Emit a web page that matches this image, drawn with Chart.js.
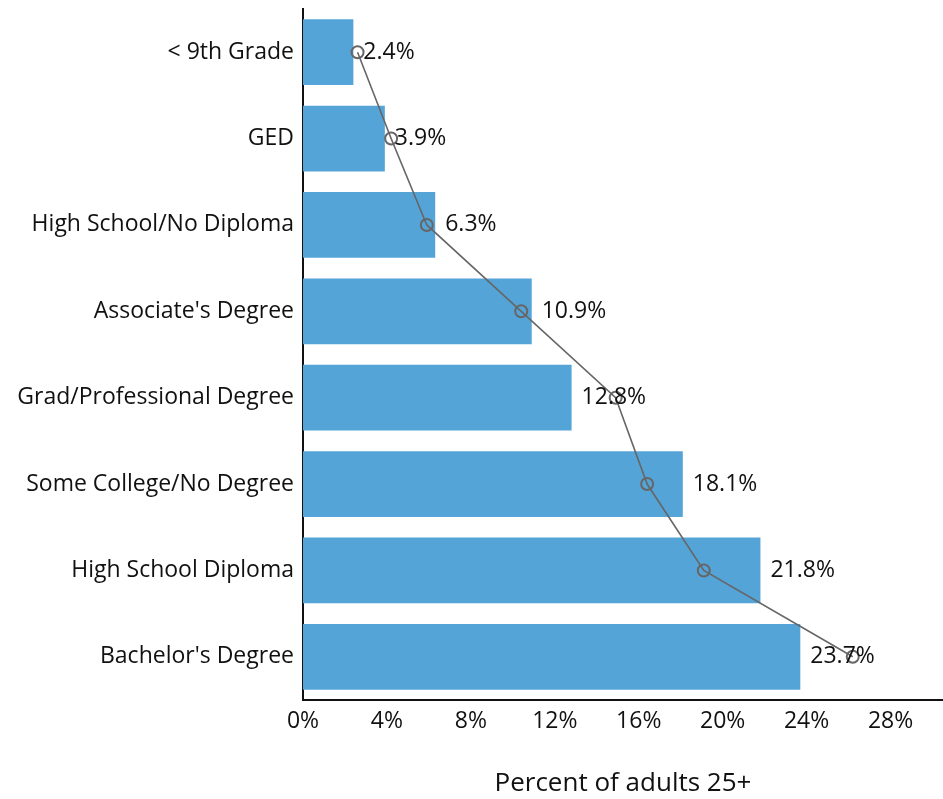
<!DOCTYPE html>
<html>
<head>
  <title>Education attainment</title>
  <script src="https://cdn.jsdelivr.net/npm/chart.js"></script>
  <style>
    html, body { margin: 0; padding: 0; overflow: hidden; background: #fff; }
    #wrap { width: 943px; height: 799px; }
  </style>
</head>
<body>
  <div id="wrap">
    <canvas id="eduChart"></canvas>
  </div>

  <script>
    // categories, top to bottom
    const categories = [
      '< 9th Grade',
      'GED',
      'High School/No Diploma',
      "Associate's Degree",
      'Grad/Professional Degree',
      'Some College/No Degree',
      'High School Diploma',
      "Bachelor's Degree"
    ];
    // bar values (percent)
    const barValues = [2.4, 3.9, 6.3, 10.9, 12.8, 18.1, 21.8, 23.7];
    // comparison line values (percent)
    const lineValues = [2.6, 4.2, 5.9, 10.4, 14.9, 16.4, 19.1, 26.2];
    // x axis ticks
    const xTicks = [0, 4, 8, 12, 16, 20, 24, 28];

    const FONT = '"Open Sans", Lato, sans-serif';

    // write the value at the end of each bar
    const barLabels = {
      id: 'barLabels',
      afterDatasetsDraw(chart) {
        const ctx = chart.ctx;
        const meta = chart.getDatasetMeta(1);
        ctx.save();
        ctx.font = '23px ' + FONT;
        ctx.fillStyle = '#111';
        ctx.textAlign = 'left';
        ctx.textBaseline = 'middle';
        meta.data.forEach((bar, i) => {
          ctx.fillText(barValues[i].toFixed(1) + '%', bar.x + 10, bar.y);
        });
        ctx.restore();
      }
    };

    const ctx = document.getElementById('eduChart').getContext('2d');
    const chart = new Chart(ctx, {
      type: 'bar',
      data: {
        labels: categories,
        datasets: [
          {
            type: 'line',
            indexAxis: 'y',
            data: lineValues,
            borderColor: '#666666',
            borderWidth: 1.6,
            pointRadius: 6,
            pointBorderWidth: 2,
            pointBorderColor: '#666666',
            pointBackgroundColor: 'rgba(0,0,0,0)',
            fill: false,
            tension: 0,
            order: 0
          },
          {
            data: barValues,
            backgroundColor: '#54a4d8',
            barPercentage: 0.76,
            categoryPercentage: 1,
            order: 1
          }
        ]
      },
      options: {
        indexAxis: 'y',
        responsive: true,
        maintainAspectRatio: false,
        animation: false,
        layout: { autoPadding: false, padding: { top: 9, right: 0, left: 0, bottom: 0 } },
        plugins: {
          legend: { display: false },
          tooltip: { enabled: false }
        },
        scales: {
          x: {
            min: 0,
            max: 30.5,
            afterBuildTicks(scale) {
              scale.ticks = xTicks.map(v => ({ value: v }));
            },
            afterFit(scale) {
              scale.height = 99;
              scale.paddingLeft = 0;
              scale.paddingRight = 0;
            },
            grid: { display: false, drawTicks: false },
            border: { display: true, color: '#111', width: 2 },
            ticks: {
              padding: 8,
              color: '#111',
              font: { family: FONT, size: 23 },
              callback: v => v + '%'
            },
            title: {
              display: true,
              text: 'Percent of adults 25+',
              color: '#111',
              font: { family: FONT, size: 26 },
              padding: { top: 0, bottom: 0 }
            }
          },
          y: {
            afterFit(scale) {
              scale.width = 303;
              scale.paddingTop = 0;
              scale.paddingBottom = 0;
            },
            grid: { display: false, drawTicks: false },
            border: { display: true, color: '#111', width: 2 },
            ticks: {
              padding: 9,
              color: '#111',
              font: { family: FONT, size: 23 }
            }
          }
        }
      },
      plugins: [barLabels]
    });
  </script>
</body>
</html>
